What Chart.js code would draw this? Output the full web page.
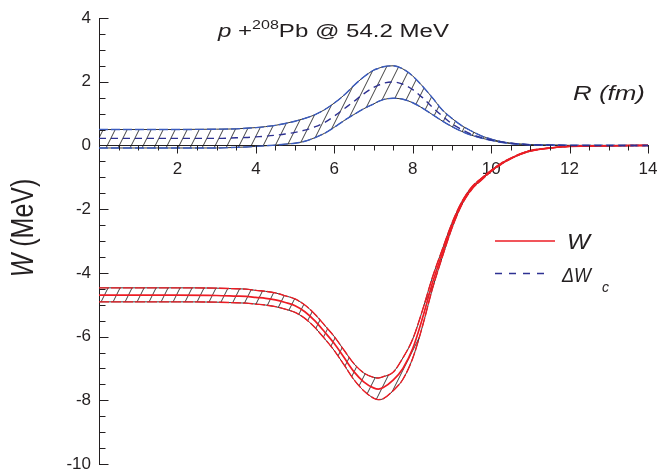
<!DOCTYPE html>
<html>
<head>
<meta charset="utf-8">
<script src="https://cdn.jsdelivr.net/npm/chart.js@4.4.1/dist/chart.umd.min.js"></script>
<style>
  html, body { margin: 0; padding: 0; background: #fff; }
</style>
</head>
<body>
<canvas id="chart" width="659" height="470"></canvas>
<script>
// radius grid (fm)
const xs = [0, 1, 2, 3, 3.5, 3.75, 4, 4.25, 4.5, 4.75, 5, 5.25, 5.5, 5.75, 6, 6.25, 6.5, 6.75, 7, 7.125, 7.25,
            7.5, 7.75, 8, 8.25, 8.5, 8.75, 9, 9.25, 9.5, 9.75, 10, 10.25, 10.5, 10.75, 11, 11.5, 12, 13, 14];

// W (MeV): central curve and band edges
const wMid  = [-4.70, -4.70, -4.70, -4.71, -4.73, -4.74, -4.77, -4.80, -4.85, -4.93, -5.03, -5.22, -5.50, -5.85, -6.22, -6.66, -7.10, -7.42, -7.61, -7.65, -7.60,
               -7.37, -7.00, -6.38, -5.42, -4.33, -3.40, -2.52, -1.82, -1.35, -1.06, -0.80, -0.58, -0.41, -0.27, -0.17, -0.08, -0.03, -0.01, 0];
const wHigh = [-4.47, -4.47, -4.47, -4.48, -4.50, -4.51, -4.55, -4.58, -4.63, -4.72, -4.82, -5.01, -5.29, -5.64, -6.00, -6.43, -6.85, -7.14, -7.28, -7.30, -7.26,
               -7.12, -6.67, -6.08, -5.17, -4.15, -3.28, -2.44, -1.77, -1.31, -1.03, -0.78, -0.56, -0.40, -0.26, -0.16, -0.08, -0.03, -0.01, 0];
const wLow  = [-4.91, -4.91, -4.91, -4.92, -4.94, -4.95, -4.98, -5.01, -5.06, -5.14, -5.24, -5.43, -5.71, -6.06, -6.44, -6.89, -7.35, -7.70, -7.93, -7.98, -7.95,
               -7.70, -7.34, -6.68, -5.67, -4.51, -3.52, -2.60, -1.87, -1.39, -1.09, -0.82, -0.60, -0.42, -0.28, -0.18, -0.08, -0.03, -0.01, 0];

// Delta W_c (MeV): central curve and band edges
const dwMid  = [0.22, 0.22, 0.22, 0.22, 0.24, 0.25, 0.27, 0.29, 0.32, 0.36, 0.41, 0.48, 0.58, 0.72, 0.92, 1.15, 1.38, 1.62, 1.82, 1.89, 1.95,
                1.99, 1.92, 1.75, 1.50, 1.20, 0.93, 0.68, 0.50, 0.35, 0.25, 0.17, 0.11, 0.07, 0.04, 0.02, 0.01, 0, 0, 0];
const dwHigh = [0.50, 0.50, 0.50, 0.51, 0.52, 0.54, 0.56, 0.59, 0.63, 0.69, 0.76, 0.85, 0.96, 1.12, 1.33, 1.58, 1.88, 2.15, 2.36, 2.42, 2.47,
                2.50, 2.40, 2.18, 1.86, 1.50, 1.12, 0.85, 0.62, 0.45, 0.30, 0.20, 0.12, 0.07, 0.04, 0.02, 0.01, 0, 0, 0];
const dwLow  = [-0.08, -0.08, -0.08, -0.08, -0.06, -0.05, -0.03, -0.01, 0.01, 0.04, 0.07, 0.13, 0.24, 0.38, 0.57, 0.78, 0.97, 1.15, 1.30, 1.38, 1.44,
                1.48, 1.45, 1.34, 1.17, 0.97, 0.77, 0.59, 0.44, 0.32, 0.23, 0.16, 0.10, 0.06, 0.04, 0.02, 0.01, 0, 0, 0];

const xRange = [0, 14];
const yRange = [-10, 4];
const majorStep = 2;
const minorStep = 0.5;

const FONT = "'Liberation Sans', Arial, sans-serif";
const ink = '#231f20';
const red = '#ed1c24';
const navy = '#2e3192';
const edgeBlue = '#3b5cbf';

const canvas = document.getElementById('chart');

// hatch tile for the bands
function makeHatch() {
    const tile = document.createElement('canvas');
    tile.width = 12;
    tile.height = 24;
    const g = tile.getContext('2d');
    g.strokeStyle = '#111';
    g.lineWidth = 0.8;
    g.beginPath();
    for (const o of [-12, 0, 12]) {
        g.moveTo(o, 24);
        g.lineTo(o + 12, 0);
    }
    g.stroke();
    return canvas.getContext('2d').createPattern(tile, 'repeat');
}
const hatch = makeHatch();

function series(ys, color, width, dash, extra) {
    return Object.assign({
        data: xs.map((x, i) => ({ x: x, y: ys[i] })),
        borderColor: color,
        borderWidth: width,
        borderDash: dash,
        pointRadius: 0,
        fill: false,
        cubicInterpolationMode: 'monotone'
    }, extra || {});
}

const datasets = [
    // 0,1: Delta W band edges (black) with hatch fill
    series(dwHigh, '#222', 0.9, [], { fill: 1, backgroundColor: hatch, order: 10 }),
    series(dwLow, '#222', 0.9, [], { order: 10 }),
    // 2,3: W band edges (black) with hatch fill
    series(wHigh, '#222', 0.9, [], { fill: 3, backgroundColor: hatch, order: 10 }),
    series(wLow, '#222', 0.9, [], { order: 10 }),
    // coloured edge overlays
    series(dwHigh, edgeBlue, 1.4, [9, 3], { order: 5 }),
    series(dwLow, edgeBlue, 1.4, [9, 3], { order: 5 }),
    series(wHigh, red, 1.4, [10, 2], { order: 5 }),
    series(wLow, red, 1.4, [10, 2], { order: 5 }),
    // central curves
    series(dwMid, navy, 1.4, [7, 5], { order: 1 }),
    series(wMid, red, 1.7, [], { order: 1 })
];

function drawRuns(ctx, list, x0, base, width) {
    let total = 0;
    for (const r of list) {
        ctx.font = r.f;
        total += ctx.measureText(r.t).width;
    }
    const s = width ? width / total : 1;
    ctx.save();
    ctx.translate(x0, base);
    ctx.scale(s, 1);
    let cx = 0;
    for (const r of list) {
        ctx.font = r.f;
        ctx.fillText(r.t, cx, r.dy || 0);
        cx += ctx.measureText(r.t).width;
    }
    ctx.restore();
    return total;
}

const decor = {
    id: 'decor',
    afterDraw(chart) {
        const { ctx, scales: { x, y } } = chart;
        ctx.save();

        // minor and major tick marks
        ctx.strokeStyle = ink;
        ctx.lineWidth = 1;
        ctx.beginPath();
        const y0 = Math.round(y.getPixelForValue(0)) + 0.5;
        for (let v = xRange[0] + minorStep; v <= xRange[1]; v += minorStep) {
            const px = Math.round(x.getPixelForValue(v)) + 0.5;
            ctx.moveTo(px, y0);
            ctx.lineTo(px, y0 + (v % majorStep === 0 ? 8 : 5));
        }
        const x0 = Math.round(x.getPixelForValue(0)) + 0.5;
        for (let v = yRange[0]; v <= yRange[1]; v += minorStep) {
            const py = Math.round(y.getPixelForValue(v)) + 0.5;
            ctx.moveTo(x0, py);
            ctx.lineTo(x0 + (v % majorStep === 0 ? 9 : 6), py);
        }
        ctx.stroke();

        ctx.fillStyle = ink;
        ctx.textBaseline = 'alphabetic';
        ctx.textAlign = 'left';

        // title
        drawRuns(ctx, [
            { t: 'p', f: 'italic 18px ' + FONT },
            { t: ' +', f: '18px ' + FONT },
            { t: '208', f: '12px ' + FONT, dy: -8 },
            { t: 'Pb @ 54.2 MeV', f: '18px ' + FONT }
        ], 218, 37, 231);

        // axis name on the right
        drawRuns(ctx, [{ t: 'R (fm)', f: 'italic 20px ' + FONT }], 573, 100, 72);

        // y axis title, rotated
        ctx.save();
        ctx.translate(33, 228);
        ctx.rotate(-Math.PI / 2);
        ctx.scale(1, 1.26);
        const yt = [
            { t: 'W', f: 'italic 25px ' + FONT },
            { t: ' (MeV)', f: '25px ' + FONT }
        ];
        let tw = 0;
        for (const r of yt) { ctx.font = r.f; tw += ctx.measureText(r.t).width; }
        drawRuns(ctx, yt, -tw / 2, 0, 0);
        ctx.restore();

        // legend
        ctx.strokeStyle = red;
        ctx.lineWidth = 1.7;
        ctx.beginPath();
        ctx.moveTo(495, 241);
        ctx.lineTo(555, 241);
        ctx.stroke();
        drawRuns(ctx, [{ t: 'W', f: 'italic 22px ' + FONT }], 567, 249, 23);

        ctx.strokeStyle = navy;
        ctx.lineWidth = 1.4;
        ctx.setLineDash([7, 7]);
        ctx.beginPath();
        ctx.moveTo(495, 273.5);
        ctx.lineTo(549, 273.5);
        ctx.stroke();
        ctx.setLineDash([]);
        drawRuns(ctx, [{ t: '\u0394W', f: 'italic 20px ' + FONT }], 562, 282, 29);
        drawRuns(ctx, [{ t: 'c', f: 'italic 14px ' + FONT }], 602, 292, 0);

        ctx.restore();
    }
};

new Chart(canvas, {
    type: 'line',
    data: { datasets: datasets },
    options: {
        responsive: false,
        animation: false,
        devicePixelRatio: 1,
        layout: { padding: { left: 0, right: 11, top: 18, bottom: 6 } },
        plugins: {
            legend: { display: false },
            tooltip: { enabled: false },
            title: { display: false }
        },
        scales: {
            x: {
                type: 'linear',
                position: { y: 0 },
                min: xRange[0],
                max: xRange[1],
                grid: { display: false, drawTicks: false },
                border: { display: true, color: ink, width: 1 },
                ticks: {
                    stepSize: majorStep,
                    padding: 14,
                    color: ink,
                    font: { family: FONT, size: 17 },
                    maxRotation: 0,
                    callback: v => (v === 0 ? '' : v)
                },
                afterFit: s => { s.height = 0; s.paddingLeft = 0; s.paddingRight = 0; }
            },
            y: {
                type: 'linear',
                position: 'left',
                min: yRange[0],
                max: yRange[1],
                grid: { display: false, drawTicks: false },
                border: { display: true, color: ink, width: 1 },
                ticks: {
                    stepSize: majorStep,
                    padding: 8,
                    color: ink,
                    font: { family: FONT, size: 17 }
                },
                afterFit: s => { s.width = 99; s.paddingTop = 0; s.paddingBottom = 0; }
            }
        }
    },
    plugins: [decor]
});
</script>
</body>
</html>
